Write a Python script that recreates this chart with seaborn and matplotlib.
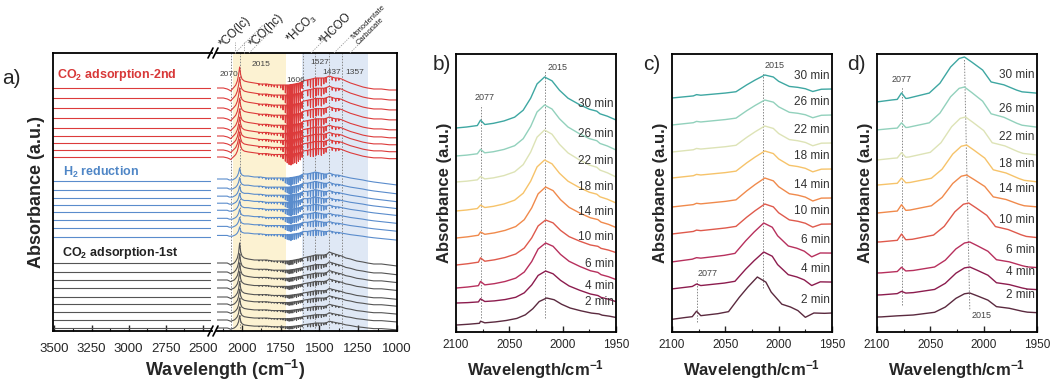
import numpy as np
import pandas as pd
import matplotlib
matplotlib.use("Agg")
import matplotlib.pyplot as plt
import matplotlib.transforms as mtrans
from matplotlib.lines import Line2D
from matplotlib.ticker import MultipleLocator
import seaborn as sns

sns.set_style("ticks")
plt.rcParams["font.family"] = ["Liberation Sans", "DejaVu Sans"]
plt.rcParams["mathtext.default"] = "regular"

# ---------------- panel a: three stages, right segment 2161-1000 cm-1 ----------------
band_wn = [2161, 2120, 2095, 2082, 2072, 2062, 2050, 2040, 2030, 2022,
           2015, 2008, 2000, 1985, 1960, 1920, 1880, 1840, 1800, 1760,
           1730, 1700, 1660, 1630, 1606, 1580, 1550, 1527, 1500, 1470,
           1450, 1437, 1420, 1400, 1380, 1357, 1330, 1300, 1260, 1220,
           1190, 1150, 1100, 1050, 1000]
profile_co2_2nd = [0, 0, -1, -2, -3, -1, 1, 3, 7, 13,
                   21, 13, 9, 7, 6, 5, 4, 4, 3, 3,
                   3, 3, 4, 5, 7, 8, 9, 10, 10, 10,
                   11, 12, 11, 10, 10, 9, 7, 5, 3, 1,
                   0, -1, -1, -2, -2]
profile_h2 = [2, 2, 2, 1, 1, 1, 2, 3, 5, 8,
              13, 8, 6, 5, 5, 4, 4, 3, 3, 3,
              3, 3, 4, 5, 7, 7, 8, 9, 8, 7,
              7, 8, 7, 6, 6, 5, 4, 3, 2, 1,
              0, -1, -2, -3, -4]
profile_co2_1st = [0, 0, 0, -1, -2, -1, 0, 2, 5, 10,
                   20, 11, 7, 5, 4, 3, 3, 3, 2, 2,
                   2, 2, 3, 4, 5, 6, 7, 8, 8, 8,
                   9, 11, 10, 9, 8, 7, 5, 4, 2, 1,
                   0, -1, -1, -2, -3]

# narrow gas-phase water lines
spike_wn = [1890, 1868, 1845, 1828, 1810, 1792, 1772, 1750, 1735, 1720,
            1708, 1696, 1684, 1672, 1660, 1648, 1636, 1624, 1612, 1576,
            1558, 1540, 1522, 1507, 1488, 1472, 1457, 1418, 1395, 1375]
spike_co2_2nd = [1.5, 1.5, 2, 2, 2, 2, 2.5, 3, 5, 8,
                 10, 12, 13, 12, 11, 12, 10, 9, 7, 6,
                 8, 9, 8, 7, 8, 6, 5, 3, 3, 2]
spike_h2 = [1, 1, 1.5, 1.5, 1.5, 1.5, 2, 2, 3, 5,
            6, 7, 8, 7, 7, 7, 6, 5, 4, 5,
            6, 7, 7, 6, 6, 5, 4, 2, 2, 1.5]
spike_co2_1st = [1, 1, 1, 1, 1, 1, 1.5, 1.5, 2, 3,
                 3, 4, 4, 4, 3, 4, 3, 3, 3, 4,
                 5, 5, 5, 4, 4, 3, 3, 2, 2, 1.5]

offsets_co2_2nd = [243, 233, 223, 213, 203, 195, 188, 181, 174]
scales_co2_2nd = [1.0, 0.98, 0.96, 0.94, 0.92, 0.9, 0.88, 0.86, 0.84]
offsets_h2 = [150, 141, 133, 126, 119, 111, 103, 94]
scales_h2 = [1.0, 0.96, 0.93, 0.9, 0.87, 0.84, 0.81, 0.78]
offsets_co2_1st = [68, 59, 51, 43, 34, 27, 19, 11, 3]
scales_co2_1st = [1.0, 0.92, 0.86, 0.82, 0.78, 0.74, 0.7, 0.66, 0.62]

band_marks = [2070, 2015, 1606, 1527, 1437, 1357]
band_labels = ["2070", "2015", "1606", "1527", "1437", "1357"]

# ---------------- panels b-d: 2100-1950 cm-1 time series ----------------
minutes = [2, 4, 6, 10, 14, 18, 22, 26, 30]
time_colors = ["#5b2a3f", "#8c1c4e", "#b7305d", "#df5a4c", "#f08a4c",
               "#f6c36a", "#dde3b6", "#92d1bc", "#3ea7a2"]

b_shape_wn = [2100, 2090, 2080, 2065, 2055, 2045, 2037, 2030, 2024, 2017,
              2010, 2003, 1995, 1985, 1975, 1968, 1965, 1958, 1950]
b_shape = [0, 0.01, 0.03, 0.06, 0.1, 0.17, 0.31, 0.56, 0.86, 1.0,
           0.91, 0.7, 0.52, 0.38, 0.26, 0.21, 0.15, 0.09, 0.0]
b_left = [7, 29, 44, 67, 94, 121, 150, 176, 204]
b_right = [14, 30, 52, 79, 104, 129, 155, 182, 212]
b_peak = [34, 61, 89, 112, 145, 172, 202, 227, 255]
b_center = [2015, 2016, 2016, 2016, 2016, 2017, 2017, 2017, 2017]
b_2077 = [2, 3, 4, 4, 3, 3, 3, 4, 5]

c_shape_wn = [2100, 2080, 2060, 2050, 2040, 2030, 2022, 2013, 2005, 2000,
              1990, 1982, 1975, 1968, 1960, 1950]
c_shape = [0, 0.05, 0.09, 0.11, 0.15, 0.5, 0.75, 1.0, 0.86, 0.6,
           0.28, 0.2, 0.1, -0.08, 0.02, 0]
c_left = [12, 43, 70, 98, 125, 154, 180, 207, 234]
c_right = [19, 50, 79, 108, 134, 163, 189, 217, 243]
c_peak = [55, 80, 109, 128, 154, 181, 206, 232, 257]
c_center = [2020, 2014, 2014, 2013, 2013, 2013, 2013, 2013, 2013]
c_2077 = [5, 2, 1, 1, 1, 1, 1, 1, 1]

d_shape_wn = [2100, 2085, 2070, 2050, 2040, 2030, 2022, 2017, 2010, 2000,
              1992, 1980, 1968, 1963, 1950]
d_shape = [0, 0.03, 0.05, 0.15, 0.38, 0.77, 0.97, 1.0, 0.86, 0.65,
           0.34, 0.25, 0.1, 0.05, 0]
d_left = [15, 37, 59, 90, 119, 147, 172, 202, 230]
d_right = [19, 42, 64, 94, 125, 150, 177, 205, 239]
d_peak = [39, 65, 90, 129, 157, 187, 215, 245, 275]
d_center = [2013, 2013, 2013, 2014, 2016, 2016, 2017, 2018, 2018]
d_2077 = [0, 2, 4, 6, 6, 5, 5, 5, 6]

RED, BLUE, GREY = "#dc3b3b", "#5a8ccc", "#555555"


def stage_frames(profile, spikes, offsets, scales, tag):
    wn = np.array(band_wn, float)
    prof = np.array(profile, float)
    sp = np.array(spike_wn, float)
    grid = np.unique(np.concatenate([wn, sp - 2.5, sp, sp + 2.5]))[::-1]
    base = np.interp(grid, wn[::-1], prof[::-1])
    dip = np.zeros_like(grid)
    for w, d in zip(sp, spikes):
        dip[grid == w] = d
    left, right = [], []
    for i, (off, sc) in enumerate(zip(offsets, scales)):
        name = f"{tag}{i}"
        right.append(pd.DataFrame({"wn": grid, "absorbance": off + sc * (base - dip), "trace": name}))
        left.append(pd.DataFrame({"wn": [3510.0, 2440.0], "absorbance": [off, off], "trace": name}))
    return left, right


def time_frame(shape_wn, shape, left, right, peak, center, bump):
    sw = np.array(shape_wn, float)
    ss = np.array(shape, float)
    ref = sw[np.argmax(ss)]
    parts = []
    for m, l, r, p, c, h in zip(minutes, left, right, peak, center, bump):
        shift = c - ref
        x = np.unique(np.concatenate([sw + shift, [2081, 2077, 2073, 2100, 1950]]))
        x = x[(x >= 1950) & (x <= 2100)][::-1]
        s = np.interp(x - shift, sw[::-1], ss[::-1], left=0, right=0)
        base = l + (r - l) * (2100 - x) / 150
        amp = p - (l + (r - l) * (2100 - c) / 150)
        y = base + amp * s + np.where(x == 2077, h, 0)
        parts.append(pd.DataFrame({"wn": x, "absorbance": y, "time": f"{m} min"}))
    return pd.concat(parts, ignore_index=True)


W, H = 1053, 382
fig = plt.figure(figsize=(W / 100, H / 100), dpi=100)


def box(l, t, r, b):
    return [l / W, 1 - b / H, (r - l) / W, (b - t) / H]


def fx(px):
    return px / W


def fy(py):
    return 1 - py / H


ax_al = fig.add_axes(box(53, 53, 211.5, 331))
ax_ar = fig.add_axes(box(217, 53, 397, 331))
ax_b = fig.add_axes(box(456, 54, 616, 332))
ax_c = fig.add_axes(box(672, 54, 832, 332))
ax_d = fig.add_axes(box(877, 54, 1037, 332))

# ---- panel a ----
lefts, rights, palette = [], [], {}
for prof, spk, offs, scs, tag, col in [
    (profile_co2_2nd, spike_co2_2nd, offsets_co2_2nd, scales_co2_2nd, "r", RED),
    (profile_h2, spike_h2, offsets_h2, scales_h2, "h", BLUE),
    (profile_co2_1st, spike_co2_1st, offsets_co2_1st, scales_co2_1st, "k", GREY),
]:
    l, r = stage_frames(prof, spk, offs, scs, tag)
    lefts += l
    rights += r
    for i in range(len(offs)):
        palette[f"{tag}{i}"] = col
df_left = pd.concat(lefts, ignore_index=True)
df_right = pd.concat(rights, ignore_index=True)

ax_ar.axvspan(2055, 1715, color="#fcf2d2", lw=0, zorder=0)
ax_ar.axvspan(1615, 1190, color="#dfe8f5", lw=0, zorder=0)
for w in band_marks:
    ax_ar.axvline(w, color="#888888", lw=0.7, ls=(0, (1.5, 1.5)), zorder=1)

sns.lineplot(data=df_left, x="wn", y="absorbance", hue="trace", palette=palette,
             estimator=None, sort=False, legend=False, lw=0.8, ax=ax_al)
sns.lineplot(data=df_right, x="wn", y="absorbance", hue="trace", palette=palette,
             estimator=None, sort=False, legend=False, lw=0.8, ax=ax_ar, zorder=2)

ax_al.set_xlim(3510, 2440)
ax_ar.set_xlim(2161, 1000)
for ax in (ax_al, ax_ar):
    ax.set_ylim(0, 278)
    ax.set_yticks([])
    ax.set_xlabel("")
    ax.set_ylabel("")
    ax.xaxis.set_minor_locator(MultipleLocator(125))
    ax.tick_params(axis="x", which="major", direction="in", length=4, width=1, pad=9, labelsize=9.5)
    ax.tick_params(axis="x", which="minor", direction="in", length=2, width=0.8)
    for s in ax.spines.values():
        s.set_linewidth(1.3)
        s.set_color("black")
ax_al.set_xticks([3500, 3250, 3000, 2750, 2500])
ax_ar.set_xticks([2000, 1750, 1500, 1250, 1000])
ax_al.spines["right"].set_visible(False)
ax_ar.spines["left"].set_visible(False)
ax_al.set_ylabel("Absorbance (a.u.)", fontsize=13, fontweight="bold", labelpad=6)

# axis break marks
for yb in (53, 331):
    for x0 in (208, 213):
        fig.add_artist(Line2D([fx(x0), fx(x0 + 5)], [fy(yb + 5), fy(yb - 5)],
                              color="black", lw=1.2))

fig.text(fx(225), fy(370), "Wavelength (cm$^{-1}$)", ha="center", va="center",
         fontsize=13, fontweight="bold")

ax_al.text(3485, 256, "CO$_2$ adsorption-2nd", color="#d83838", fontsize=9,
           fontweight="bold", va="center")
ax_al.text(3445, 159, "H$_2$ reduction", color="#4f86c6", fontsize=9,
           fontweight="bold", va="center")
ax_al.text(3450, 78, "CO$_2$ adsorption-1st", color="#222222", fontsize=9,
           fontweight="bold", va="center")

label_pos = {"2070": (2081, 257), "2015": (1877, 266), "1606": (1652, 251),
             "1527": (1497, 269), "1437": (1419, 259), "1357": (1271, 259)}
for lab in band_labels:
    x, y = label_pos[lab]
    ax_ar.text(x, y, lab, fontsize=6, color="#444444", ha="center", va="center")

# species labels above the frame
species = [("*CO(lc)", 226, 50, 8.5), ("*CO(hc)", 256, 50, 8.5),
           ("*HCO$_3$", 294, 47, 8.5), ("*HCOO", 326, 47, 8.5),
           ("Monodentate\nCarbonate", 360, 46, 5.5)]
for txt, px, py, fs in species:
    fig.text(fx(px), fy(py), txt, rotation=45, rotation_mode="anchor",
             ha="left", va="bottom", fontsize=fs, color="#222222")
for vx in (235, 249, 311, 334, 350):
    fig.add_artist(Line2D([fx(vx), fx(vx + 28)], [fy(53), fy(25)], color="#999999",
                          lw=0.6, ls=(0, (1.5, 1.5))))
for vx in (235, 244):
    fig.add_artist(Line2D([fx(vx), fx(vx)], [fy(53), fy(42)], color="#999999",
                          lw=0.6, ls=(0, (1.5, 1.5))))

fig.text(fx(2), fy(78), "a)", fontsize=15, va="center", ha="left")

# ---- panels b-d ----
time_palette = dict(zip([f"{m} min" for m in minutes], time_colors))
panels = [
    (ax_b, "b)", 433, time_frame(b_shape_wn, b_shape, b_left, b_right, b_peak, b_center, b_2077), b_right, 16),
    (ax_c, "c)", 643, time_frame(c_shape_wn, c_shape, c_left, c_right, c_peak, c_center, c_2077), c_right, 13),
    (ax_d, "d)", 847, time_frame(d_shape_wn, d_shape, d_left, d_right, d_peak, d_center, d_2077), d_right, 18),
]
for ax, tag, tx, df, rights_end, lift in panels:
    sns.lineplot(data=df, x="wn", y="absorbance", hue="time", palette=time_palette,
                 estimator=None, sort=False, legend=False, lw=1.0, ax=ax)
    ax.set_xlim(2100, 1950)
    ax.set_ylim(0, 278)
    ax.set_yticks([])
    ax.set_xticks([2100, 2050, 2000, 1950])
    ax.xaxis.set_minor_locator(MultipleLocator(25))
    ax.tick_params(axis="x", which="major", direction="in", length=4, width=1, pad=5, labelsize=8.5)
    ax.tick_params(axis="x", which="minor", direction="in", length=2, width=0.8)
    for s in ax.spines.values():
        s.set_linewidth(1.3)
        s.set_color("black")
    ax.set_xlabel("Wavelength/cm$^{-1}$", fontsize=12, fontweight="bold", labelpad=5)
    ax.set_ylabel("Absorbance (a.u.)", fontsize=12, fontweight="bold", labelpad=3)
    tr = mtrans.blended_transform_factory(ax.transAxes, ax.transData)
    for m, r in zip(minutes, rights_end):
        ax.text(0.985, r + lift, f"{m} min", transform=tr, ha="right", va="center",
                fontsize=8.5, color="#333333")
    fig.text(fx(tx), fy(65), tag, fontsize=15, va="center", ha="left")

dot = dict(color="#888888", lw=0.7, ls=(0, (1.5, 1.5)), zorder=0)
ax_b.plot([2017, 2017], [14, 262], **dot)
ax_b.plot([2077, 2077], [14, 227], **dot)
ax_b.text(2014, 265, "2015", fontsize=6.5, color="#444444", ha="left", va="center")
ax_b.text(2073, 234, "2077", fontsize=6.5, color="#444444", ha="center", va="center")

ax_c.plot([2015, 2015], [44, 260], **dot)
ax_c.plot([2077, 2077], [10, 52], **dot)
ax_c.text(2013, 266, "2015", fontsize=6.5, color="#444444", ha="left", va="center")
ax_c.text(2076, 59, "2077", fontsize=6.5, color="#444444", ha="left", va="center")

ax_d.plot([2018, 2013], [272, 22], **dot)
ax_d.plot([2077, 2077], [27, 245], **dot)
ax_d.text(2011, 17, "2015", fontsize=6.5, color="#444444", ha="left", va="center")
ax_d.text(2077, 253, "2077", fontsize=6.5, color="#444444", ha="center", va="center")

fig.savefig("out.png", dpi=100)
